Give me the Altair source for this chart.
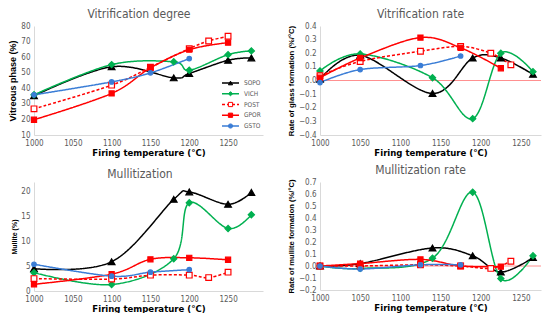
import altair as alt
import pandas as pd

SERIES = ["SOPO", "VICH", "POST", "GPOR", "GSTO"]
COLORS = ["#000000", "#00B050", "#FF0000", "#FF0000", "#3A7DD6"]
FILLS = ["#000000", "#00B050", "#FFFFFF", "#FF0000", "#3A7DD6"]
SHAPES = ["triangle-up", "diamond", "square", "square", "circle"]
SIZES = [45, 20, 45, 45, 50]
DASHES = [[1, 0], [1, 0], [3, 2], [1, 0], [1, 0]]
XTICKS = [1000, 1050, 1100, 1150, 1200, 1250]

NARROW = "'Liberation Sans Narrow', 'DejaVu Sans Condensed', 'Liberation Sans', sans-serif"
REG = "'Liberation Sans', Arial, sans-serif"

# firing temperatures (degree / mullite panels)
T_SOPO = [1000, 1100, 1180, 1200, 1250, 1280]
T_VICH = [1000, 1100, 1180, 1200, 1250, 1280]
T_POST = [1000, 1100, 1150, 1200, 1225, 1250]
T_GPOR = [1000, 1100, 1150, 1200, 1250]
T_GSTO = [1000, 1100, 1150, 1200]

# mid-interval temperatures (rate panels)
R_SOPO = [1000, 1050, 1140, 1190, 1225, 1265]
R_VICH = [1000, 1050, 1140, 1190, 1225, 1265]
R_POST = [1000, 1050, 1125, 1175, 1212.5, 1237.5]
R_GPOR = [1000, 1050, 1125, 1175, 1225]
R_GSTO = [1000, 1050, 1125, 1175]

# Vitrification degree (%)
VIT_SOPO = [35.2, 53.8, 46.7, 49.5, 58.0, 59.5]
VIT_VICH = [35.8, 55.2, 57.0, 51.6, 61.6, 64.0]
VIT_POST = [26.8, 42.0, 53.5, 65.5, 70.4, 73.4]
VIT_GPOR = [19.8, 36.7, 53.1, 64.8, 69.3]
VIT_GSTO = [35.8, 44.1, 49.9, 59.1]

# Vitrification rate (%/°C)
VR_SOPO = [0.01, 0.185, -0.095, 0.165, 0.165, 0.045]
VR_VICH = [0.07, 0.195, 0.02, -0.28, 0.2, 0.065]
VR_POST = [0.035, 0.14, 0.215, 0.25, 0.2, 0.115]
VR_GPOR = [0.02, 0.165, 0.315, 0.24, 0.09]
VR_GSTO = [-0.015, 0.08, 0.11, 0.18]

# Mullite (%)
MUL_SOPO = [4.5, 5.9, 18.5, 20.0, 17.5, 19.9]
MUL_VICH = [3.7, 1.3, 6.5, 17.8, 12.6, 15.4]
MUL_POST = [2.5, 2.4, 3.2, 3.2, 2.7, 3.8]
MUL_GPOR = [1.35, 3.4, 6.4, 6.7, 6.3]
MUL_GSTO = [5.4, 3.0, 3.8, 4.3]

# Mullitization rate (%/°C)
MR_SOPO = [0.0, 0.02, 0.15, 0.085, -0.05, 0.07]
MR_VICH = [0.0, -0.02, 0.065, 0.615, -0.105, 0.085]
MR_POST = [0.0, 0.0, 0.01, 0.0, -0.02, 0.04]
MR_GPOR = [0.0, 0.02, 0.055, 0.0, -0.005]
MR_GSTO = [0.0, -0.025, 0.01, 0.01]


def frame(temps, values):
    rows = []
    for name, ts, vs in zip(SERIES, temps, values):
        for t, v in zip(ts, vs):
            rows.append({"series": name, "T": t, "V": v})
    return pd.DataFrame(rows)


df_vit = frame([T_SOPO, T_VICH, T_POST, T_GPOR, T_GSTO],
               [VIT_SOPO, VIT_VICH, VIT_POST, VIT_GPOR, VIT_GSTO])
df_vr = frame([R_SOPO, R_VICH, R_POST, R_GPOR, R_GSTO],
              [VR_SOPO, VR_VICH, VR_POST, VR_GPOR, VR_GSTO])
df_mul = frame([T_SOPO, T_VICH, T_POST, T_GPOR, T_GSTO],
               [MUL_SOPO, MUL_VICH, MUL_POST, MUL_GPOR, MUL_GSTO])
df_mr = frame([R_SOPO, R_VICH, R_POST, R_GPOR, R_GSTO],
              [MR_SOPO, MR_VICH, MR_POST, MR_GPOR, MR_GSTO])

color_enc = alt.Color("series:N", scale=alt.Scale(domain=SERIES, range=COLORS), legend=None)
stroke_enc = alt.Stroke("series:N", scale=alt.Scale(domain=SERIES, range=COLORS), legend=None)
fill_enc = alt.Fill("series:N", scale=alt.Scale(domain=SERIES, range=FILLS), legend=None)
shape_enc = alt.Shape("series:N", scale=alt.Scale(domain=SERIES, range=SHAPES), legend=None)
size_enc = alt.Size("series:N", scale=alt.Scale(domain=SERIES, range=SIZES), legend=None)
dash_enc = alt.StrokeDash("series:N", scale=alt.Scale(domain=SERIES, range=DASHES), legend=None)


def panel(df, title, ytitle, ytsize, ydom, yvals, yfmt, xdom, width, height,
          zero=False, legend=False, tdx=0):
    x = alt.X("T:Q", scale=alt.Scale(domain=xdom, nice=False, zero=False),
              axis=alt.Axis(values=XTICKS, format="d", title="Firing temperature (°C)",
                            labelPadding=4, titlePadding=0, labelFlush=False))
    y = alt.Y("V:Q", scale=alt.Scale(domain=ydom, nice=False, zero=False),
              axis=alt.Axis(values=yvals, format=yfmt, title=ytitle, labelPadding=4,
                            titleFont=REG, titleFontSize=ytsize, labelFlush=False))
    layers = []
    if zero:
        layers.append(alt.Chart(pd.DataFrame({"V": [0.0]})).mark_rule(
            color="#FF9090", strokeWidth=1).encode(y=y))
    layers.append(alt.Chart(df).mark_line(interpolate="cardinal", strokeWidth=1.5).encode(
        x=x, y=y, color=color_enc, strokeDash=dash_enc))
    layers.append(alt.Chart(df).mark_point(filled=True, strokeWidth=1.2, opacity=1).encode(
        x=x, y=y, shape=shape_enc, fill=fill_enc, stroke=stroke_enc, size=size_enc))
    data_layer = alt.layer(*layers)
    if legend:
        leg = pd.DataFrame({"series": SERIES})
        ly = alt.Y("series:N", scale=alt.Scale(domain=SERIES, type="point",
                                               range=[57, 100], padding=0), axis=None)
        lr = alt.Chart(leg).mark_rule(strokeWidth=1.5).encode(
            x=alt.value(188), x2=alt.value(205), y=ly, color=color_enc, strokeDash=dash_enc)
        lp = alt.Chart(leg).mark_point(filled=True, strokeWidth=1, opacity=1).encode(
            x=alt.value(196.5), y=ly, shape=shape_enc, fill=fill_enc, stroke=stroke_enc,
            size=alt.value(18))
        lt = alt.Chart(leg).mark_text(align="left", baseline="middle", font=NARROW,
                                      fontSize=6.5, color="#595959").encode(
            x=alt.value(210), y=ly, text="series:N")
        ch = alt.layer(data_layer, alt.layer(lr, lp, lt)).resolve_scale(y="independent")
    else:
        ch = data_layer
    return ch.properties(
        width=width, height=height,
        title=alt.TitleParams(title, fontSize=12, font=NARROW, color="#595959",
                              fontWeight="normal", anchor="middle", frame="bounds",
                              offset=1, dx=tdx))


tl = panel(df_vit, "Vitrification degree", "Vitreous phase (%)", 9,
           [10, 80], [10, 20, 30, 40, 50, 60, 70, 80], "d", [1000, 1295], 229, 109,
           legend=True, tdx=3)
tr = panel(df_vr, "Vitrification rate", "Rate of glass formation (%/°C)", 7.7,
           [-0.4, 0.4], [-0.4, -0.3, -0.2, -0.1, 0.0, 0.1, 0.2, 0.3, 0.4], ".1f",
           [1000, 1275], 221, 109, zero=True, tdx=6)
bl = panel(df_mul, "Mullitization", "Mullite (%)", 7,
           [0, 22], [0, 5, 10, 15, 20], "d", [1000, 1295], 229, 109, tdx=3)
br = panel(df_mr, "Mullitization rate", "Rate of mullite formation (%/°C)", 7.6,
           [-0.2, 0.7], [-0.2, -0.1, 0.0, 0.1, 0.2, 0.3, 0.4, 0.5, 0.6, 0.7], ".1f",
           [1000, 1275], 221, 108, zero=True, tdx=6)

chart = alt.vconcat(
    alt.hconcat(tl, tr, spacing=24),
    alt.hconcat(bl, br, spacing=24),
    spacing=7,
).properties(padding={"left": 0, "top": 0, "right": 0, "bottom": 0}).configure_view(
    stroke=None
).configure_axis(
    domainColor="#D9D9D9", domainWidth=1, ticks=False, grid=False,
    labelColor="#595959", labelFont=NARROW, labelFontSize=8, labelPadding=3,
    titleFont=NARROW, titleFontSize=9.5, titleFontWeight="bold", titleColor="#000000",
    titlePadding=3,
)

chart.save("out.html", embed_options={"renderer": "svg", "actions": False})
